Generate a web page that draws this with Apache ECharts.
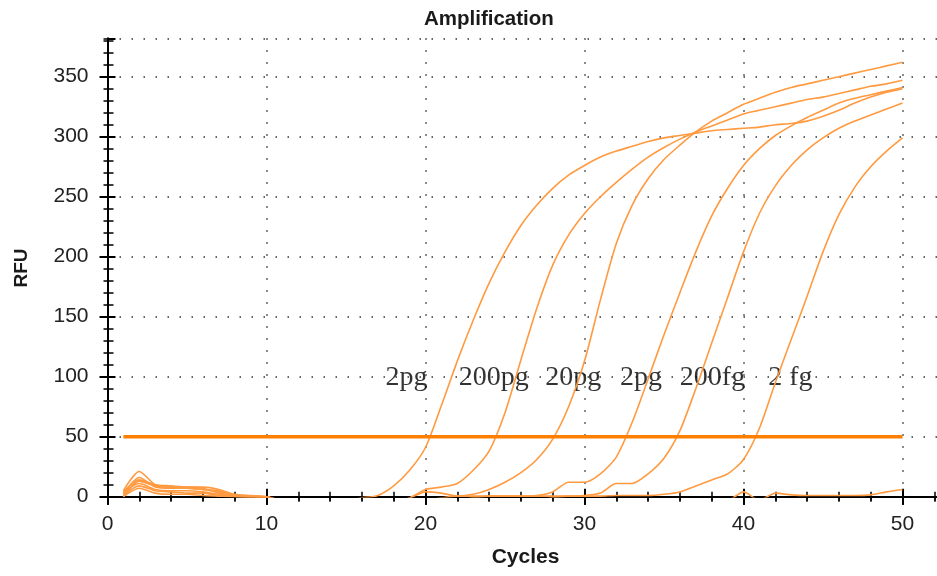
<!DOCTYPE html>
<html>
<head>
<meta charset="utf-8">
<title>Amplification</title>
<script src="https://cdn.jsdelivr.net/npm/echarts/dist/echarts.min.js"></script>
<style>
  html, body { margin: 0; padding: 0; background: #ffffff; }
  #chart { width: 937px; height: 576px; }
</style>
</head>
<body>
<div id="chart"></div>
<script>
// qPCR amplification curves (RFU per cycle) for a 10-fold dilution series plus a no-template control.
const cycles = [
  1, 2, 3, 4, 5, 6, 7, 8, 9, 10,
  11, 12, 13, 14, 15, 16, 17, 18, 19, 20,
  21, 22, 23, 24, 25, 26, 27, 28, 29, 30,
  31, 32, 33, 34, 35, 36, 37, 38, 39, 40,
  41, 42, 43, 44, 45, 46, 47, 48, 49, 50
];

// Values below zero sit under the baseline and are clipped away by the plot area.
const rfu2pgA = [
  5, 21, 10, 8, 7, 6, 5, 1, 0.5, 0,
  -3, -3, -3, -3, -3, -1, 1, 9, 22, 41,
  76, 113, 147, 178, 204, 226, 243, 257, 268, 276,
  283, 288, 292, 296, 299, 301, 303, 305, 306, 307,
  308, 310, 311, 313, 317, 322, 328, 333, 337, 340
];
const rfu200pg = [
  2, 16, 8, 7, 7, 6, 4, 1, 0.5, 0,
  -3, -3, -3, -3, -3, -3, -3, -3, -1, 6,
  8, 11, 22, 38, 70, 114, 157, 193, 218, 236,
  250, 262, 273, 283, 291, 298, 304, 309, 314, 319,
  322, 325, 328, 331, 333, 336, 339, 342, 344, 347
];
const rfu20pg = [
  0, 13, 9, 8, 8, 7, 3, 0.5, 0, -1,
  -3, -3, -3, -3, -3, -3, -3, -3, -1, 4,
  3, 0.5, 2, 6, 12, 20, 31, 48, 75, 113,
  164, 211, 243, 265, 281, 293, 304, 313, 320, 327,
  332, 337, 341, 344, 347, 350, 353, 356, 359, 362
];
const rfu2pgB = [
  3, 11, 6, 5, 5, 4, 2, 0.5, 0, -1,
  -3, -3, -3, -3, -3, -3, -3, -3, -3, -3,
  -1, 0.5, 0.5, 0.5, 0.5, 0.5, 1, 4, 12, 12,
  19, 33, 62, 98, 135, 170, 204, 234, 257, 276,
  290, 301, 309, 316, 322, 328, 332, 335, 338, 341
];
const rfu200fg = [
  1, 9, 5, 4, 3, 3, 1, 0.5, 0, -1,
  -3, -3, -3, -3, -3, -3, -3, -3, -3, -3,
  -3, -3, -1, 0.5, 0.5, 0.5, 0.5, 0.5, 0.5, 1,
  3, 11, 11, 19, 32, 55, 90, 128, 166, 204,
  236, 259, 276, 289, 299, 307, 313, 318, 323, 328
];
const rfu2fg = [
  0, 7, 3, 2, 2, 1, 0.5, 0, -1, -2,
  -3, -3, -3, -3, -3, -3, -3, -3, -3, -3,
  -3, -3, -3, -3, -3, -3, -3, -1, 0.5, 0.5,
  0.5, 1, 1, 1, 2, 4, 9, 14, 19, 31,
  57, 95, 131, 167, 204, 235, 258, 275, 288, 299
];
const rfuNtc = [
  4, 14, 10, 9, 8, 8, 6, 2, 1, 0,
  -3, -3, -3, -3, -3, -3, -3, -3, -3, -3,
  -3, -3, -3, -3, -3, -3, -3, -3, -3, -3,
  -3, -3, -3, -3, -3, -3, -3, -3, -3, 4,
  -3, 3, 1.5, 1, 1, 1, 1, 1.5, 4, 6
];

// Threshold line
const thresholdRfu = 50;
const thresholdCycles = [1, 50];

// Dilution labels written next to the curves (cycle, RFU, text)
const dilutionLabels = ['2pg', '200pg', '20pg', '2pg', '200fg', '2 fg'];
const dilutionLabelCycles = [18.8, 24.3, 29.3, 33.55, 38.05, 42.95];
const dilutionLabelRfu = 99;

// Axis ticks
const xTickStep = 10;
const yTickStep = 50;
const yMinorStep = 10;
const yMax = 382;

const curves = [
  { name: '2pg', values: rfu2pgA },
  { name: '200pg', values: rfu200pg },
  { name: '20pg', values: rfu20pg },
  { name: '2pg (2)', values: rfu2pgB },
  { name: '200fg', values: rfu200fg },
  { name: '2 fg', values: rfu2fg },
  { name: 'NTC', values: rfuNtc }
];

const sansFont = '"Liberation Sans", Arial, sans-serif';
const curveColor = '#FF9A40';
const thresholdColor = '#FF8000';

const chart = echarts.init(document.getElementById('chart'), null, { renderer: 'canvas' });

function toPairs(values) {
  return cycles.map((c, i) => [c, values[i]]);
}

const dottedGrid = { show: true, lineStyle: { color: '#333', width: 1.5, type: [1.5, 10.5] } };

function xAxisLayer(extra) {
  return Object.assign({
    type: 'value', gridIndex: 0, min: 0, max: 60, interval: xTickStep,
    axisLine: { show: false },
    axisLabel: { show: false },
    splitLine: { show: false },
    axisTick: { show: false },
    minorTick: { show: false }
  }, extra);
}

function yAxisLayer(extra) {
  return Object.assign({
    type: 'value', gridIndex: 0, min: 0, max: yMax, interval: yTickStep, position: 'left',
    axisLine: { show: false },
    axisLabel: { show: false },
    splitLine: { show: false },
    axisTick: { show: false }
  }, extra);
}

const lineSeries = curves.map(c => ({
  name: c.name,
  type: 'line',
  xAxisIndex: 0,
  yAxisIndex: 0,
  data: toPairs(c.values),
  showSymbol: false,
  smooth: 0.25,
  clip: true,
  lineStyle: { color: curveColor, width: 1.6 },
  itemStyle: { color: curveColor },
  z: 3,
  silent: true
}));

const option = {
  animation: false,
  backgroundColor: '#ffffff',
  title: {
    text: 'Amplification',
    left: 419,
    top: 4,
    textStyle: { fontSize: 20.5, fontWeight: 'bold', color: '#1a1a1a', fontFamily: sansFont }
  },
  grid: {
    left: 107.5, top: 38.3, width: 954, height: 458.4,
    show: false, containLabel: false, outerBoundsMode: 'none'
  },
  xAxis: [
    xAxisLayer({
      position: 'bottom',
      axisLine: { show: true, lineStyle: { color: '#000', width: 2 } },
      axisTick: { show: true, inside: false, length: 8, lineStyle: { color: '#000', width: 2 } },
      minorTick: { show: true, splitNumber: 5, length: 5, lineStyle: { color: '#000', width: 1.5 } },
      axisLabel: { show: true, fontSize: 21, color: '#222', margin: 17, fontFamily: sansFont },
      splitLine: dottedGrid
    }),
    xAxisLayer({
      position: 'bottom',
      axisTick: { show: true, inside: true, length: 8, lineStyle: { color: '#000', width: 2 } },
      minorTick: { show: true, splitNumber: 5, length: 5, lineStyle: { color: '#000', width: 1.5 } }
    }),
    xAxisLayer({
      position: 'top',
      axisLine: { show: true, lineStyle: { color: '#000', width: 2 } },
      axisTick: { show: true, inside: true, length: 8, lineStyle: { color: '#000', width: 2 } },
      minorTick: { show: true, splitNumber: 5, length: 4, lineStyle: { color: '#000', width: 1.5 } }
    })
  ],
  yAxis: [
    yAxisLayer({
      axisLine: { show: true, lineStyle: { color: '#000', width: 2 } },
      axisTick: { show: true, inside: false, length: 8, lineStyle: { color: '#000', width: 2 } },
      axisLabel: { show: true, fontSize: 21, color: '#222', margin: 19, fontFamily: sansFont, showMaxLabel: false },
      splitLine: dottedGrid
    }),
    yAxisLayer({
      axisTick: { show: true, inside: true, length: 8, lineStyle: { color: '#000', width: 2 } }
    }),
    yAxisLayer({
      interval: yMinorStep,
      axisTick: { show: true, inside: false, length: 4, lineStyle: { color: '#000', width: 1.5 } }
    }),
    yAxisLayer({
      interval: yMinorStep,
      axisTick: { show: true, inside: true, length: 6, lineStyle: { color: '#000', width: 1.5 } }
    })
  ],
  graphic: [
    {
      type: 'text',
      x: 491.7,
      y: 557.5,
      style: {
        text: 'Cycles',
        font: 'bold 21px ' + sansFont,
        fill: '#1a1a1a',
        align: 'left',
        verticalAlign: 'middle'
      }
    },
    {
      type: 'text',
      x: 22,
      y: 268,
      rotation: Math.PI / 2,
      style: {
        text: 'RFU',
        font: 'bold 19px ' + sansFont,
        fill: '#1a1a1a',
        align: 'center',
        verticalAlign: 'middle'
      }
    }
  ],
  series: lineSeries.concat([
    {
      name: 'Threshold',
      type: 'line',
      xAxisIndex: 0,
      yAxisIndex: 0,
      data: thresholdCycles.map(c => [c, thresholdRfu]),
      showSymbol: false,
      lineStyle: { color: thresholdColor, width: 3.5 },
      z: 4,
      silent: true
    },
    {
      name: 'Dilutions',
      type: 'scatter',
      xAxisIndex: 0,
      yAxisIndex: 0,
      symbolSize: 0,
      data: dilutionLabels.map((t, i) => ({ name: t, value: [dilutionLabelCycles[i], dilutionLabelRfu] })),
      label: {
        show: true,
        position: [0, 0],
        align: 'center',
        verticalAlign: 'middle',
        formatter: '{b}',
        fontFamily: '"Liberation Serif", "Times New Roman", serif',
        fontSize: 28,
        color: '#000'
      },
      z: 2,
      silent: true
    }
  ])
};

chart.setOption(option);
</script>
</body>
</html>
